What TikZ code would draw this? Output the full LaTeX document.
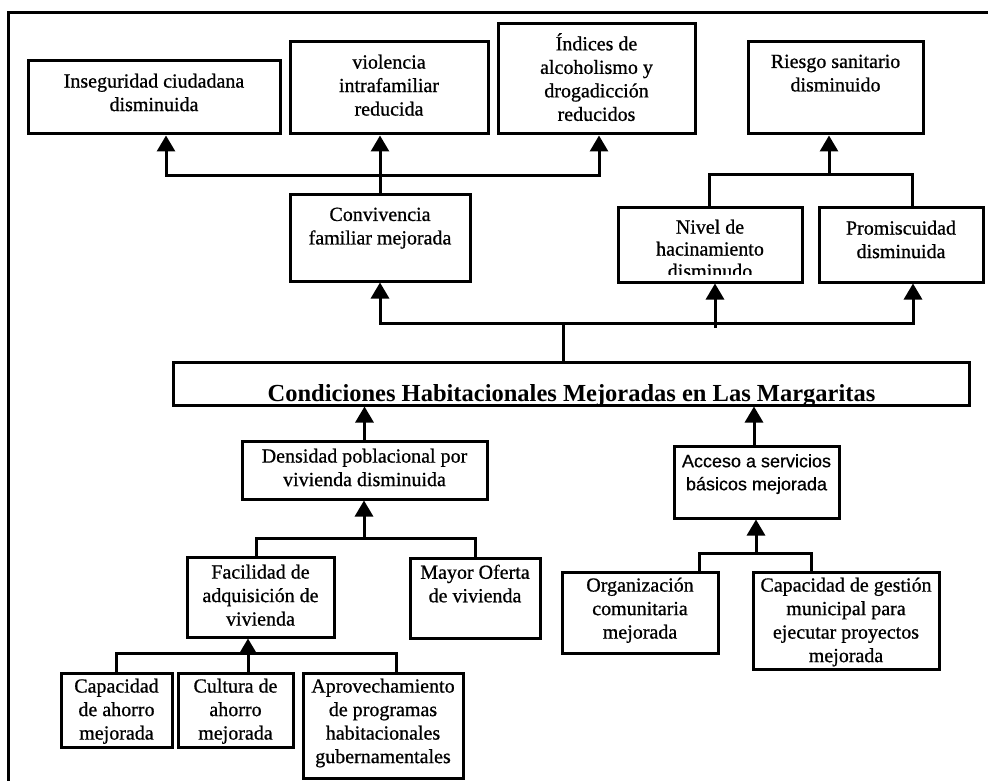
\documentclass[tikz,border=0pt]{standalone}
\usepackage{fontspec}
\setmainfont{Liberation Serif}[UprightFeatures={FakeBold=0.8}]
\newfontfamily\arialfont{Liberation Sans}[FakeBold=0.6]
\usetikzlibrary{arrows.meta}
\begin{document}
\begin{tikzpicture}[x=1pt,y=-1pt,
  box/.style={draw, line width=3pt, inner sep=0pt, rectangle},
  txt/.style={inner sep=0pt, align=center, font=\fontsize{20}{23.5}\selectfont, anchor=north},
  arr/.style={line width=3pt, -{Triangle[width=18pt,length=16pt]}},
  ln/.style={line width=3pt},
]
\useasboundingbox (0,0) rectangle (988,781);
\draw[ln] (8,781) -- (8,13) -- (988,13);

% top row
\node[box, minimum width=252pt, minimum height=73pt] (ins) at (154,97.5) {};
\node[txt] (inst) at (154,73.5) {Inseguridad ciudadana\\disminuida};
\node[box, minimum width=198pt, minimum height=92pt] (vio) at (389,88) {};
\node[txt] (viot) at (389,54.5) {violencia\\intrafamiliar\\reducida};
\node[box, minimum width=197pt, minimum height=110pt] (ind) at (596.5,79) {};
\node[txt] (indt) at (596.5,33) {Índices de\\alcoholismo y\\drogadicción\\reducidos};
\node[box, minimum width=175pt, minimum height=92pt] (rie) at (835.5,88) {};
\node[txt] (riet) at (835.5,54.5) {Riesgo sanitario\\disminuido};

% second row
\node[box, minimum width=180pt, minimum height=87pt] (con) at (380,237.5) {};
\node[txt] (cont) at (380,207.5) {Convivencia\\familiar mejorada};
\node[box, minimum width=184pt, minimum height=75pt] (niv) at (710,244.5) {};
\begin{scope}
\clip (niv.north west) rectangle ([yshift=9pt]niv.south east);
\node[txt, font=\fontsize{20}{22}\selectfont] (nivt) at (710,219.5) {Nivel de\\hacinamiento\\disminudo};
\end{scope}
\node[box, minimum width=164pt, minimum height=75pt] (pro) at (901,244.5) {};
\node[txt] (prot) at (901,220.5) {Promiscuidad\\disminuida};

% central
\node[box, minimum width=796pt, minimum height=43pt] (cond) at (571,383.5) {};
\node[inner sep=0pt, anchor=base, font=\bfseries\fontsize{24.5}{28}\selectfont] (condt) at (571.5,401) {Condiciones Habitacionales Mejoradas en Las Margaritas};

% lower
\node[box, minimum width=245pt, minimum height=58pt] (den) at (364.5,470) {};
\node[txt] (dent) at (364.5,448.5) {Densidad poblacional por\\vivienda disminuida};
\node[box, minimum width=165pt, minimum height=72pt] (acc) at (756.5,482) {};
\node[txt, font=\arialfont\fontsize{18}{23}\selectfont] (acct) at (756.5,454) {Acceso a servicios\\básicos mejorada};
\node[box, minimum width=147pt, minimum height=80pt] (fac) at (260.5,597) {};
\node[txt] (fact) at (260.5,564.5) {Facilidad de\\adquisición de\\vivienda};
\node[box, minimum width=130pt, minimum height=80pt] (may) at (475,598) {};
\node[txt] (mayt) at (475,564.5) {Mayor Oferta\\de vivienda};
\node[box, minimum width=156pt, minimum height=81pt] (org) at (640,612.5) {};
\node[txt] (orgt) at (640,577.5) {Organización\\comunitaria\\mejorada};
\node[box, minimum width=186pt, minimum height=97pt] (ges) at (846,620.5) {};
\node[txt] (gest) at (846,577.5) {Capacidad de gestión\\municipal para\\ejecutar proyectos\\mejorada};
\node[box, minimum width=111pt, minimum height=74pt] (cap) at (116.5,710) {};
\node[txt] (capt) at (116.5,678.5) {Capacidad\\de ahorro\\mejorada};
\node[box, minimum width=115pt, minimum height=74pt] (cul) at (235.5,710) {};
\node[txt] (cult) at (235.5,678.5) {Cultura de\\ahorro\\mejorada};
\node[box, minimum width=160pt, minimum height=105pt] (apr) at (383,725.5) {};
\node[txt] (aprt) at (383,678.5) {Aprovechamiento\\de programas\\habitacionales\\gubernamentales};

% connectors top
\coordinate (j1) at (380,175);
\draw[ln] (con.north) -- (j1);
\draw[arr] (j1) -- (vio.south -| j1);
\draw[arr] (j1) -| ([xshift=12pt]ins.south);
\draw[arr] (j1) -| ([xshift=2.5pt]ind.south);

\coordinate (j2) at (563,323);
\draw[ln] (cond.north -| j2) -- (j2);
\draw[arr] (j2) -| (con.south);
\draw[arr] (j2) -| ([xshift=12pt]pro.south);
\coordinate (j3) at (715,328);
\draw[arr] (j3) -- (niv.south -| j3);

\coordinate (j4) at (829,174);
\draw[ln] ([xshift=-1pt]niv.north) |- (j4) -| ([xshift=11pt]pro.north);
\draw[arr] (j4) -- (rie.south -| j4);

% connectors lower
\draw[arr] (den.north) -- (cond.south -| den.north);
\coordinate (j5) at (364,538);
\draw[arr] (j5) -- (den.south -| j5);
\draw[ln] ([xshift=-4.5pt]fac.north) |- (j5) -| (may.north);

\coordinate (a1) at ([xshift=-2.5pt]acc.north);
\draw[arr] (a1) -- (cond.south -| a1);
\coordinate (j6) at (756,553);
\draw[arr] (j6) -- (acc.south -| j6);
\draw[ln] ([xshift=59pt]org.north) |- (j6) -| ([xshift=-35pt]ges.north);

\coordinate (j7) at (248,653);
\draw[arr] (cul.north -| j7) -- (fac.south -| j7);
\draw[ln] (cap.north) |- (j7) -| ([xshift=13pt]apr.north);
\end{tikzpicture}
\end{document}
